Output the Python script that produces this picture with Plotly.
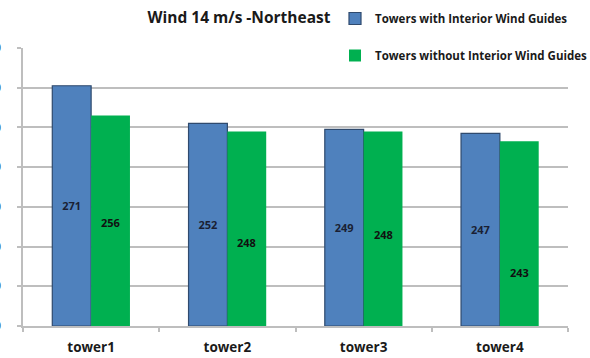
import plotly.graph_objects as go

# Wind speed 14 m/s from the northeast, per tower
towers = ["tower1", "tower2", "tower3", "tower4"]
with_guides = [271, 252, 249, 247]
without_guides = [256, 248, 248, 243]
y_ticks = [150, 170, 190, 210, 230, 250, 270, 290]
AXIS_MIN, AXIS_MAX = 150, 290

BLUE = "#4F81BD"
BLUE_EDGE = "#2F4A6E"
GREEN = "#00B050"
GRID = "#BEBEBE"
FONT = "Open Sans"
LABEL_FONT = dict(family=FONT, size=11, weight="bold")

# Heights (axis units) where the green-bar value labels were placed by hand
GREEN_LABEL_AT = [202, 192, 196, 177]
BAR_HALF_PX = 19.4  # half of one bar's width, to sit a label over the green bar

fig = go.Figure()
# Bars rise from the axis floor, so the inside labels sit in the visible middle
fig.add_trace(go.Bar(
    name="Towers with Interior Wind Guides",
    x=towers, y=[v - AXIS_MIN for v in with_guides], base=AXIS_MIN,
    marker=dict(color=BLUE, line=dict(color=BLUE_EDGE, width=1.2)),
    text=[str(v) for v in with_guides],
    textposition="inside", insidetextanchor="middle", textangle=0,
    textfont=dict(LABEL_FONT, color="#1A1F33"),
    hovertext=[str(v) for v in with_guides], hoverinfo="x+text",
    legendgroup="a",
))
fig.add_trace(go.Bar(
    name="Towers without Interior Wind Guides",
    x=towers, y=[v - AXIS_MIN for v in without_guides], base=AXIS_MIN,
    marker=dict(color=GREEN, line=dict(color=GREEN, width=0)),
    hovertext=[str(v) for v in without_guides], hoverinfo="x+text",
    legendgroup="b",
))

annotations = [
    dict(x=t, y=ly, xref="x", yref="y", text=str(v), showarrow=False,
         xshift=BAR_HALF_PX, font=dict(LABEL_FONT, color="#111111"))
    for t, v, ly in zip(towers, without_guides, GREEN_LABEL_AT)
]

fig.update_layout(
    width=590, height=358,
    margin=dict(l=23, r=22, t=48, b=32, autoexpand=False),
    paper_bgcolor="white", plot_bgcolor="white",
    barmode="group", bargap=0.43, bargroupgap=0,
    title=dict(text="Wind 14 m/s -Northeast", x=239 / 590, xanchor="center",
               y=1 - 18 / 358, yanchor="middle",
               font=dict(family=FONT, size=15.5, color="#1A1A1A", weight="bold")),
    legend=dict(x=(335 - 23) / 545, xanchor="left", y=(326 - 4) / 278, yanchor="top",
                bgcolor="rgba(0,0,0,0)", traceorder="grouped", tracegroupgap=18,
                itemwidth=30,
                font=dict(family=FONT, size=11.5, color="#1A1A1A", weight="bold")),
    showlegend=True,
    annotations=annotations,
    # the top gridline stops where the legend block begins
    shapes=[dict(type="rect", xref="paper", yref="paper",
                 x0=(358 - 23) / 545, x1=1.0, y0=0.988, y1=1.012,
                 fillcolor="white", line=dict(width=0), layer="above")],
)
fig.update_xaxes(
    showline=True, linecolor=GRID, linewidth=1.5,
    ticks="outside", tickson="boundaries", ticklen=4, tickcolor=GRID, tickwidth=1.5,
    tickfont=dict(family=FONT, size=13.5, color="#1A1A1A", weight="bold"),
    ticklabelstandoff=8,
    showgrid=False, automargin=False,
)
fig.update_yaxes(
    range=[AXIS_MIN, AXIS_MAX], tickvals=y_ticks,
    showline=True, linecolor=GRID, linewidth=1.5,
    showgrid=True, gridcolor=GRID, gridwidth=1.5,
    ticks="outside", ticklen=4, tickcolor=GRID, tickwidth=1.5,
    tickfont=dict(family=FONT, size=12, color="#1A1A1A", weight="bold"),
    ticklabelstandoff=14,
    zeroline=False, automargin=False,
)

fig.write_html("out.html")
